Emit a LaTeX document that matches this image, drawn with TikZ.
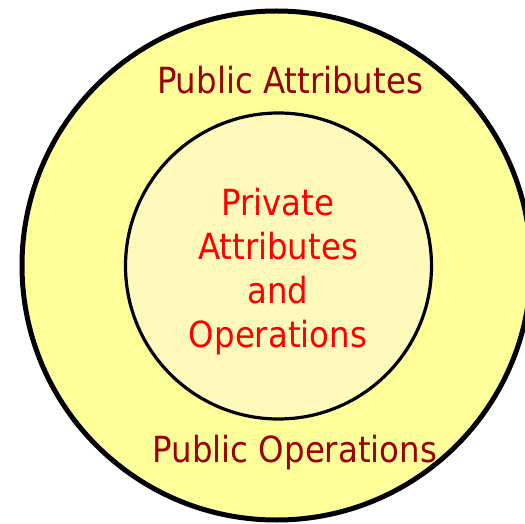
\documentclass[tikz,border=0pt]{standalone}
\usepackage{fontspec}
\setmainfont{DejaVu Sans Condensed}
\usetikzlibrary{positioning}
\definecolor{ringfill}{HTML}{FFFF99}
\definecolor{corefill}{HTML}{FFF9BB}
\definecolor{pubred}{HTML}{990000}
\definecolor{privred}{HTML}{FF0000}

\begin{document}
\begin{tikzpicture}[x=1pt,y=1pt,
  ring/.style={circle,draw=black,inner sep=0pt},
  publabel/.style={text=pubred,font=\fontsize{36}{44}\selectfont,anchor=base,inner sep=0pt},
  privlabel/.style={text=privred,font=\fontsize{36}{44}\selectfont,align=center,anchor=base,inner sep=0pt}]
\useasboundingbox (0,0) rectangle (525,523);
\node[ring,fill=ringfill,line width=5pt,minimum size=509pt] (outer) at (276.5,257.5) {};
\node[ring,fill=corefill,line width=3.2pt,minimum size=306pt] (core) at (278.5,257) {};
\node[publabel] (pubattr) at (290,429) {Public Attributes};
\node[publabel] (pubops) at (295,61) {Public Operations};
% base anchor sits on the last line
\node[privlabel] (priv) at (278,176) {Private\\Attributes\\and\\Operations};
\end{tikzpicture}
\end{document}
